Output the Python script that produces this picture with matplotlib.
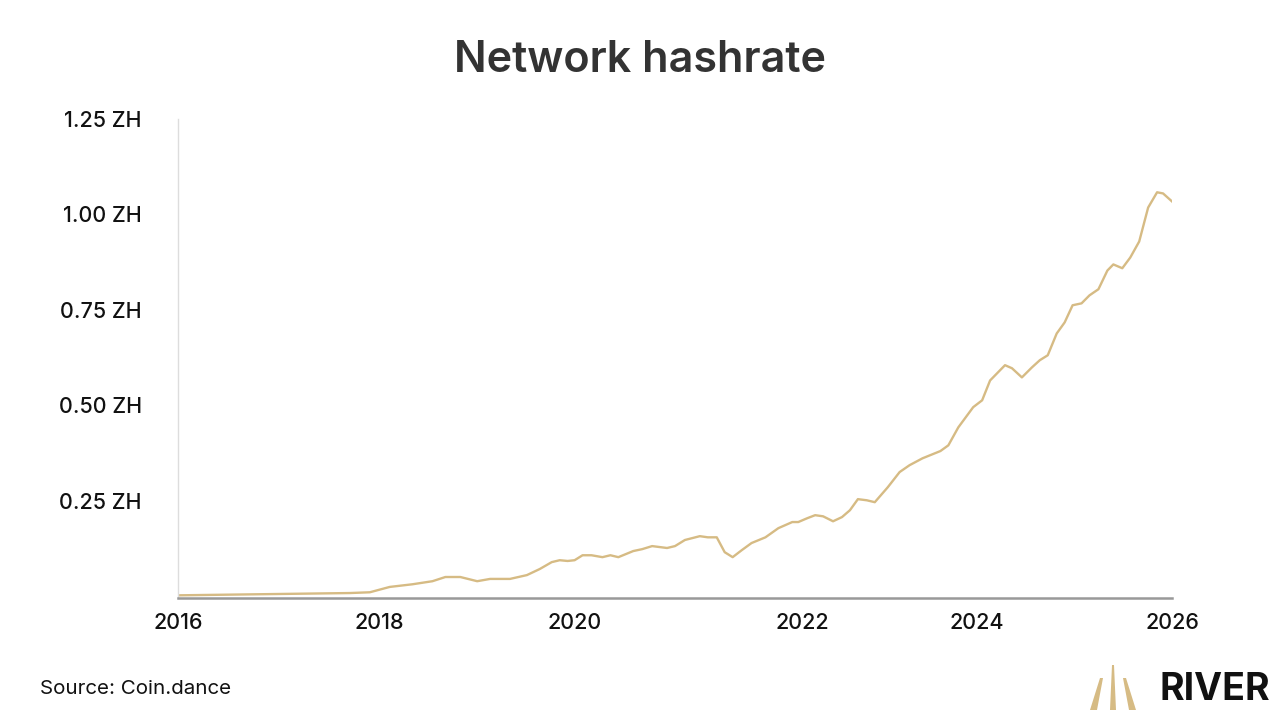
import matplotlib
matplotlib.use("Agg")
import matplotlib.pyplot as plt
from matplotlib.patches import Polygon

plt.rcParams['font.family'] = ['Inter', 'DejaVu Sans']

years = [2016.00, 2017.73, 2017.93, 2018.13, 2018.36, 2018.56, 2018.69, 2018.84, 2019.01, 2019.14,
         2019.34, 2019.51, 2019.64, 2019.76, 2019.84, 2019.92, 2019.99, 2020.07, 2020.16, 2020.27,
         2020.35, 2020.43, 2020.58, 2020.67, 2020.77, 2020.92, 2021.00, 2021.10, 2021.25, 2021.33,
         2021.42, 2021.50, 2021.58, 2021.67, 2021.77, 2021.91, 2022.04, 2022.18, 2022.24, 2022.33,
         2022.41, 2022.49, 2022.59, 2022.68, 2022.76, 2022.84, 2022.93, 2023.01, 2023.14, 2023.26,
         2023.36, 2023.49, 2023.67, 2023.75, 2023.85, 2024.00, 2024.09, 2024.17, 2024.32, 2024.39,
         2024.49, 2024.59, 2024.67, 2024.75, 2024.84, 2024.92, 2025.00, 2025.09, 2025.17, 2025.26,
         2025.35, 2025.41, 2025.50, 2025.58, 2025.67, 2025.76, 2025.85, 2025.91, 2026.00]
hashrate_zh = [0.002, 0.008, 0.010, 0.024, 0.031, 0.039, 0.050, 0.050, 0.039, 0.045,
               0.045, 0.055, 0.071, 0.089, 0.094, 0.092, 0.094, 0.107, 0.107, 0.102,
               0.107, 0.102, 0.118, 0.123, 0.131, 0.126, 0.131, 0.147, 0.157, 0.154,
               0.154, 0.115, 0.102, 0.120, 0.139, 0.154, 0.178, 0.194, 0.194, 0.204,
               0.212, 0.209, 0.196, 0.207, 0.225, 0.254, 0.251, 0.246, 0.285, 0.325,
               0.343, 0.361, 0.380, 0.395, 0.442, 0.495, 0.513, 0.565, 0.605, 0.597,
               0.573, 0.599, 0.618, 0.631, 0.688, 0.717, 0.762, 0.767, 0.788, 0.804,
               0.853, 0.869, 0.859, 0.887, 0.929, 1.018, 1.058, 1.055, 1.034]
xtick_pos = [2016.0, 2018.02, 2019.99, 2022.28, 2024.04, 2026.0]
xtick_labels = ['2016', '2018', '2020', '2022', '2024', '2026']
ytick_pos = [0.25, 0.50, 0.75, 1.00, 1.25]
ytick_labels = ['0.25 ZH', '0.50 ZH', '0.75 ZH', '1.00 ZH', '1.25 ZH']

fig = plt.figure(figsize=(12.8, 7.19), dpi=100)
ax = fig.add_axes([178/1280, 1-598/719, (1172-178)/1280, (598-119)/719])
ax.plot(years, hashrate_zh, color='#d6bb84', lw=1.7, solid_joinstyle='round')
ax.set_xlim(2016, 2026)
ax.set_ylim(-0.005, 1.25)
ax.set_xticks(xtick_pos, xtick_labels, fontsize=15.5, color='#111111', fontweight='medium')
ax.set_yticks(ytick_pos, ytick_labels, fontsize=15.5, color='#111111', fontweight='medium')
ax.tick_params(length=0, pad=11)
ax.tick_params(axis='y', pad=26)
for s in ['top', 'right']:
    ax.spines[s].set_visible(False)
ax.spines['left'].set_color('#dddddd')
ax.spines['left'].set_linewidth(1)
ax.spines['bottom'].set_color('#999999')
ax.spines['bottom'].set_linewidth(1.8)

fig.text(0.5, 1-60/719, 'Network hashrate', ha='center', va='center', fontsize=31,
         color='#333333', fontweight='semibold')
fig.text(40/1280, 1-689/719, 'Source: Coin.dance', ha='left', va='center', fontsize=14.8, color='#111111')
fig.text(1270/1280, 1-690/719, 'RIVER', ha='right', va='center', fontsize=27, fontweight='bold', color='#111111')

gold = '#d6bb84'
def px(x, y):
    return (x/1280, 1-y/719)
for pts in [[(1090, 710), (1097, 710), (1103, 678), (1100, 678)],
            [(1110, 710), (1116, 710), (1114, 665), (1112, 665)],
            [(1129, 710), (1136, 710), (1126, 678), (1123, 678)]]:
    fig.patches.append(Polygon([px(*p) for p in pts], closed=True, transform=fig.transFigure,
                               facecolor=gold, edgecolor='none'))

fig.savefig('out.png', dpi=100)
